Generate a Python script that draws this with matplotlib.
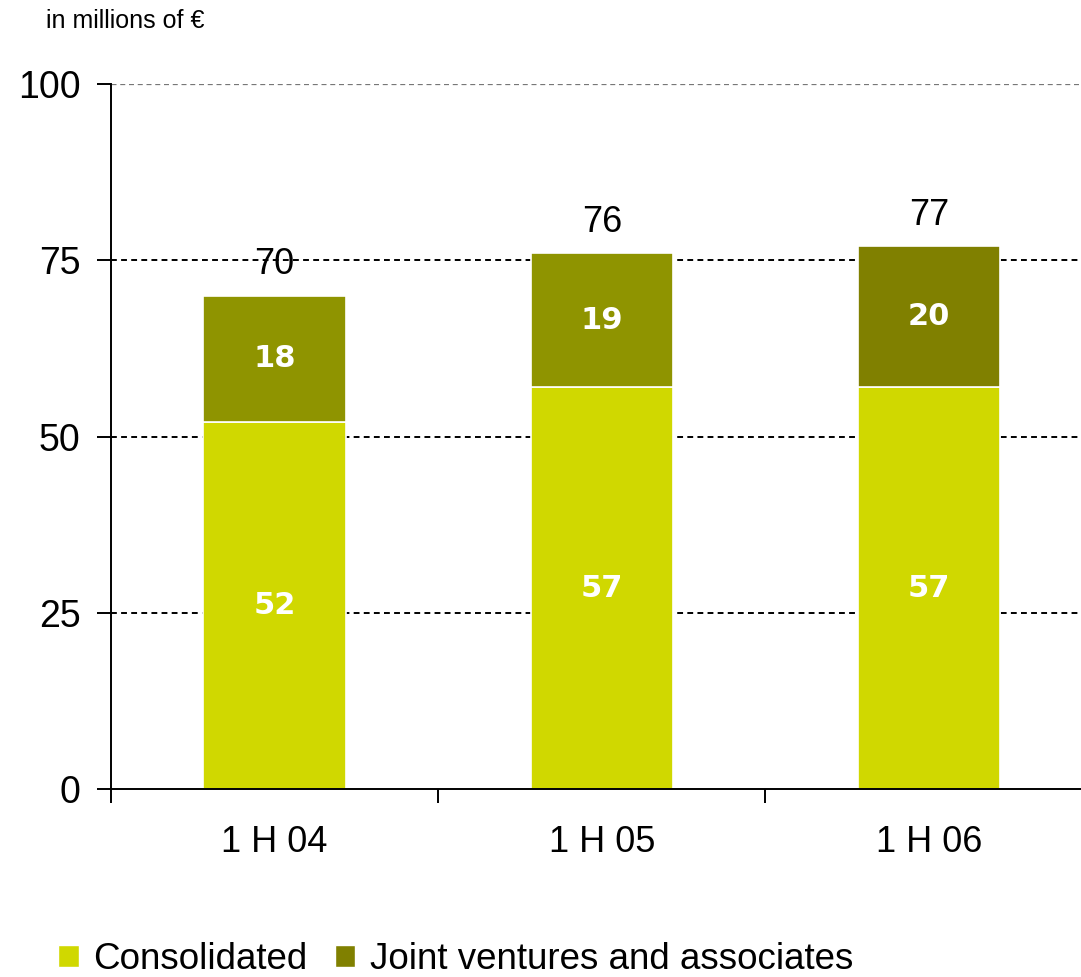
import numpy as np
import matplotlib
matplotlib.use("Agg")
from matplotlib import pyplot as plt
from matplotlib.patches import Patch

plt.rcParams['font.family'] = ['Liberation Sans', 'DejaVu Sans']

periods = ['1 H 04', '1 H 05', '1 H 06']
consolidated = [52, 57, 57]
joint_ventures = [18, 19, 20]
totals = [70, 76, 77]

c_cons = '#D0D800'
c_jv = ['#8F9400', '#8F9400', '#808000']
c_jv_legend = '#808000'


def draw_chart():
    fig = plt.figure(figsize=(10.81, 9.77), dpi=100)
    ax = fig.add_axes([0.1027, 0.1924, 0.908, 0.7216])
    x = np.arange(len(periods))
    width = 0.435

    # dotted reference lines behind the bars
    for yv in [25, 50, 75]:
        ax.axhline(yv, color='black', lw=1.4, ls=(0, (3, 2.2)), zorder=0)
    ax.axhline(100, color='#777777', lw=0.9, ls=(0, (4, 3)), zorder=0)

    ax.bar(x, consolidated, width, color=c_cons, edgecolor='white', lw=1.2, zorder=2)
    ax.bar(x, joint_ventures, width, bottom=consolidated, color=c_jv,
           edgecolor='white', lw=1.2, zorder=2)

    for i in range(len(periods)):
        ax.text(x[i], consolidated[i] / 2, str(consolidated[i]), ha='center', va='center',
                color='white', fontsize=22, fontweight='bold', family='DejaVu Sans', zorder=3)
        ax.text(x[i], consolidated[i] + joint_ventures[i] / 2, str(joint_ventures[i]),
                ha='center', va='center', color='white', fontsize=22,
                fontweight='bold', family='DejaVu Sans', zorder=3)
        ax.text(x[i], totals[i] + 4.4, str(totals[i]), ha='center', va='center',
                color='black', fontsize=26, zorder=3)

    ax.set_xlim(-0.5, 2.5)
    ax.set_ylim(0, 100)
    ax.set_yticks([0, 25, 50, 75, 100])
    ax.tick_params(axis='y', direction='out', length=10, width=1.4, pad=12, labelsize=27)
    ax.set_xticks(x)
    ax.set_xticklabels(periods)
    ax.set_xticks([-0.5, 0.5, 1.5, 2.5], minor=True)
    ax.tick_params(axis='x', which='major', length=0, pad=26, labelsize=26)
    ax.tick_params(axis='x', which='minor', direction='out', length=10, width=1.4)

    for s in ['top', 'right']:
        ax.spines[s].set_visible(False)
    ax.spines['left'].set_linewidth(1.4)
    ax.spines['bottom'].set_linewidth(1.4)

    fig.text(0.043, 0.978, 'in millions of \u20ac', fontsize=18, ha='left', va='center')

    handles = [Patch(facecolor=c_cons, edgecolor='white'),
               Patch(facecolor=c_jv_legend, edgecolor='white')]
    fig.legend(handles, ['Consolidated', 'Joint ventures and associates'],
               loc='lower left', bbox_to_anchor=(0.054, 0.0), ncol=2, frameon=False,
               fontsize=26.5, handlelength=0.55, handleheight=0.55, handletextpad=0.4,
               columnspacing=0.75, borderpad=0, borderaxespad=0)

    fig.savefig('out.png', dpi=100)


draw_chart()
